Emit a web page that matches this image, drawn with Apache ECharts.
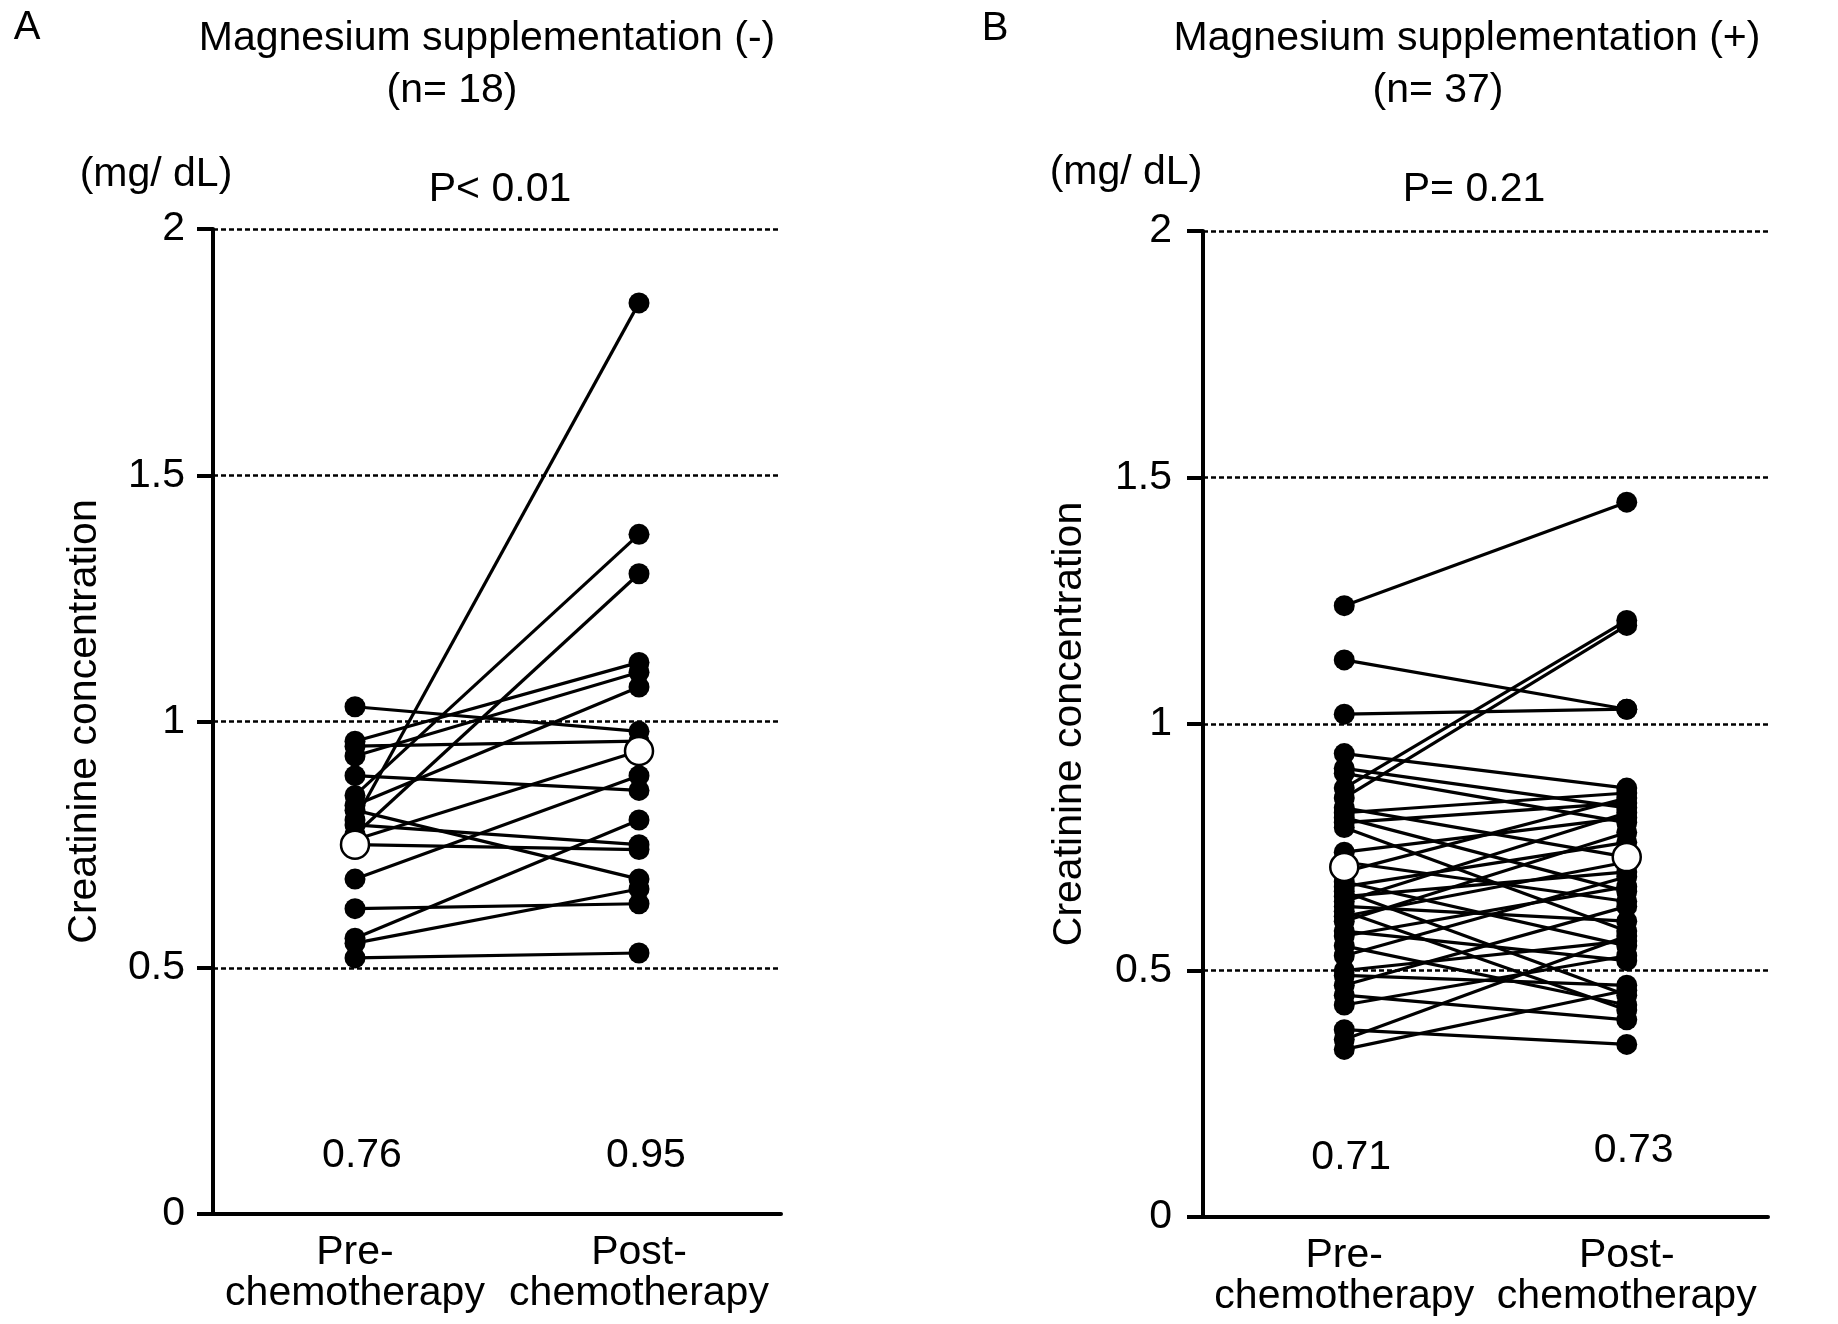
<!DOCTYPE html>
<html>
<head>
<meta charset="utf-8">
<script src="https://cdn.jsdelivr.net/npm/echarts@6/dist/echarts.min.js"></script>
<style>
html,body{margin:0;padding:0;background:#fff;}
#chart{width:1838px;height:1324px;}
</style>
</head>
<body>
<div id="chart"></div>
<script>
// ---------- data ----------
var categories = ['Pre-\nchemotherapy', 'Post-\nchemotherapy'];
var yTicks = [0, 0.5, 1, 1.5, 2];

// Panel A: Magnesium supplementation (-), n = 18 (paired values)
var preA  = [1.03, 0.96, 0.95, 0.93, 0.89, 0.85, 0.83, 0.82, 0.80, 0.79, 0.77, 0.76, 0.75, 0.68, 0.62, 0.56, 0.55, 0.52];
var postA = [0.98, 1.12, 0.96, 1.10, 0.86, 1.38, 1.07, 0.68, 1.85, 0.75, 1.30, 0.94, 0.74, 0.89, 0.63, 0.80, 0.66, 0.53];
var meanMarkA = [0.75, 0.94];
var meanTextA = ['0.76', '0.95'];

// Panel B: Magnesium supplementation (+), n = 37 (paired values)
var preB  = [1.24, 1.13, 1.02, 0.94, 0.91, 0.90, 0.87, 0.85, 0.83, 0.82, 0.81, 0.80, 0.79, 0.74, 0.72, 0.70, 0.68, 0.67, 0.66,
             0.65, 0.64, 0.63, 0.62, 0.61, 0.60, 0.58, 0.57, 0.55, 0.53, 0.50, 0.49, 0.47, 0.45, 0.43, 0.38, 0.36, 0.34];
var postB = [1.45, 1.03, 1.03, 0.87, 0.83, 0.80, 1.21, 1.20, 0.73, 0.86, 0.66, 0.84, 0.58, 0.81, 0.64, 0.85, 0.55, 0.76, 0.45,
             0.70, 0.82, 0.60, 0.42, 0.72, 0.78, 0.52, 0.67, 0.43, 0.69, 0.56, 0.47, 0.63, 0.40, 0.53, 0.35, 0.57, 0.46];
var meanMarkB = [0.71, 0.73];
var meanTextB = ['0.71', '0.73'];

var pTextA = 'P< 0.01';
var pTextB = 'P= 0.21';
var titleA = 'Magnesium supplementation (-)';
var titleB = 'Magnesium supplementation (+)';
var nTextA = '(n= 18)';
var nTextB = '(n= 37)';
var unitText = '(mg/ dL)';
var yName = 'Creatinine concentration';

// ---------- chart ----------
var FONT = "'Liberation Sans', Arial, Helvetica, sans-serif";
var FS = 41;

function xAxis(gi) {
  return {
    type: 'category', gridIndex: gi, data: categories, boundaryGap: true,
    axisLine: {show: true, lineStyle: {color: '#000', width: 4}},
    axisTick: {show: false},
    axisLabel: {color: '#000', fontSize: FS, fontFamily: FONT, lineHeight: 41, margin: 18, interval: 0},
    splitLine: {show: false}
  };
}
function yAxis(gi, gap, margin) {
  return {
    type: 'value', gridIndex: gi, min: 0, max: 2, interval: 0.5,
    name: yName, nameLocation: 'middle', nameGap: gap,
    nameTextStyle: {color: '#000', fontSize: FS, fontFamily: FONT},
    axisLine: {show: true, lineStyle: {color: '#000', width: 4}},
    axisTick: {show: true, length: 16, lineStyle: {color: '#000', width: 4}},
    axisLabel: {color: '#000', fontSize: FS, fontFamily: FONT, margin: margin,
      formatter: function (v) { return yTicks.indexOf(v) >= 0 ? String(v) : ''; }},
    splitLine: {show: true, lineStyle: {color: '#000', width: 2.5, type: [5, 3]}}
  };
}

var series = [];
function addPairs(pre, post, gi) {
  for (var i = 0; i < pre.length; i++) {
    series.push({
      type: 'line', xAxisIndex: gi, yAxisIndex: gi,
      data: [pre[i], post[i]],
      symbol: 'circle', symbolSize: 21, showSymbol: true,
      lineStyle: {color: '#000', width: 3.2},
      itemStyle: {color: '#000', opacity: 1},
      silent: true, z: 3
    });
  }
}
addPairs(preA, postA, 0);
addPairs(preB, postB, 1);

function addMean(mark, text, gi, levels) {
  series.push({
    type: 'scatter', xAxisIndex: gi, yAxisIndex: gi,
    data: [[0, mark[0]], [1, mark[1]]],
    symbol: 'circle', symbolSize: 28,
    itemStyle: {color: '#ffffff', borderColor: '#000', borderWidth: 2.5, opacity: 1},
    silent: true, z: 5
  });
  series.push({
    type: 'scatter', xAxisIndex: gi, yAxisIndex: gi,
    data: [[0, levels[0]], [1, levels[1]]],
    symbolSize: 0, silent: true, z: 5,
    itemStyle: {opacity: 1},
    label: {show: true, position: 'inside', offset: [7, 0], color: '#000', opacity: 1, fontSize: FS, fontFamily: FONT,
      formatter: function (p) { return text[p.dataIndex]; }}
  });
}
addMean(meanMarkA, meanTextA, 0, [0.118, 0.118]);
addMean(meanMarkB, meanTextB, 1, [0.12, 0.134]);

function txt(s, x, y, size) {
  return {type: 'text', x: x, y: y, silent: true, z: 10,
    style: {text: s, fill: '#000', font: (size || FS) + 'px ' + FONT, textAlign: 'center', textVerticalAlign: 'middle'}};
}

var option = {
  backgroundColor: '#fff',
  animation: false,
  grid: [
    {left: 213, top: 229, width: 568, height: 985},
    {left: 1203, top: 231, width: 565, height: 986}
  ],
  xAxis: [xAxis(0), xAxis(1)],
  yAxis: [yAxis(0, 108, 28), yAxis(1, 113, 31)],
  series: series,
  graphic: [
    txt('A', 27, 28, 40),
    txt('B', 995, 29, 40),
    txt(titleA, 487, 39),
    txt(nTextA, 452, 91),
    txt(titleB, 1467, 39),
    txt(nTextB, 1438, 91),
    txt(unitText, 156, 175),
    txt(unitText, 1126, 173),
    txt(pTextA, 500, 190),
    txt(pTextB, 1474, 190)
  ]
};

var chart = echarts.init(document.getElementById('chart'), null, {renderer: 'canvas'});
chart.setOption(option);
</script>
</body>
</html>
